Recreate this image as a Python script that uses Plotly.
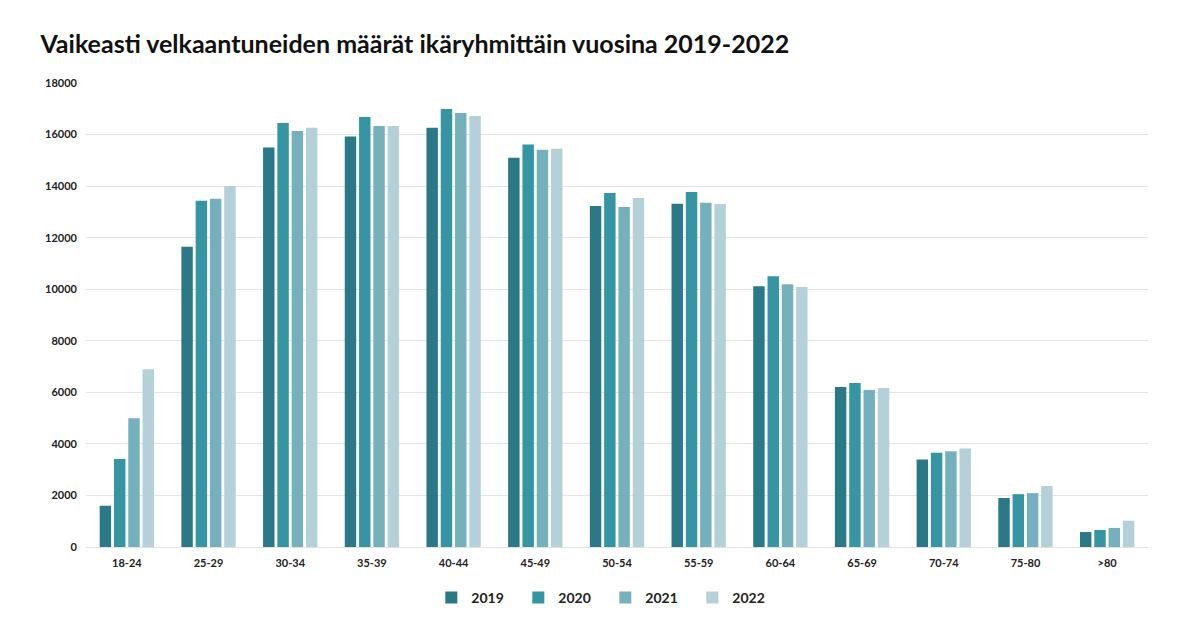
import plotly.graph_objects as go

categories = ["18-24", "25-29", "30-34", "35-39", "40-44", "45-49", "50-54",
              "55-59", "60-64", "65-69", "70-74", "75-80", ">80"]
years = ["2019", "2020", "2021", "2022"]
v2019 = [1600, 11650, 15500, 15920, 16260, 15100, 13230, 13320, 10120, 6210, 3390, 1900, 580]
v2020 = [3410, 13430, 16450, 16680, 16990, 15610, 13730, 13770, 10500, 6360, 3660, 2050, 660]
v2021 = [4990, 13510, 16140, 16330, 16840, 15410, 13190, 13350, 10190, 6090, 3710, 2090, 740]
v2022 = [6900, 14000, 16260, 16330, 16720, 15450, 13540, 13310, 10090, 6170, 3820, 2370, 1020]
series = [v2019, v2020, v2021, v2022]
colors = ["#2b7987", "#3595a3", "#75b1bc", "#b4d0d8"]
tick_vals = [0, 2000, 4000, 6000, 8000, 10000, 12000, 14000, 16000, 18000]

fig = go.Figure()
for name, vals, col in zip(years, series, colors):
    fig.add_trace(go.Bar(x=categories, y=vals, name=name, marker_color=col,
                         marker_line_width=0))

fig.update_layout(
    width=1200, height=628,
    paper_bgcolor="white", plot_bgcolor="white",
    margin=dict(l=78, r=60, t=75, b=89),
    barmode="group", bargap=0.3, bargroupgap=0.2,
    title=dict(text="<b>Vaikeasti velkaantuneiden määrät ikäryhmittäin vuosina 2019-2022</b>",
               x=0.027, xanchor="left", y=0.943, yanchor="middle",
               font=dict(family="Lato, sans-serif", size=25, color="#111111")),
    font=dict(family="Lato, sans-serif", color="#222222"),
    showlegend=True,
    legend=dict(orientation="h", x=0.489, xanchor="center", y=-0.075, yanchor="top",
                font=dict(size=14, color="#222222", family="Lato, sans-serif", weight="bold"),
                entrywidth=42, itemwidth=30, traceorder="normal"),
    xaxis=dict(showgrid=False, showline=True, linecolor="#e2e2e2", linewidth=1,
               ticks="", tickfont=dict(size=11, color="#222222", weight="bold"),
               ticklabelstandoff=6),
    yaxis=dict(range=[0, 18000], tickvals=tick_vals, tickformat="d", showgrid=True,
               gridcolor="#e4e4e4", gridwidth=1, zeroline=False,
               tickfont=dict(size=11, color="#222222", weight="bold"),
               ticklabelstandoff=8),
)

fig.write_html("out.html")
